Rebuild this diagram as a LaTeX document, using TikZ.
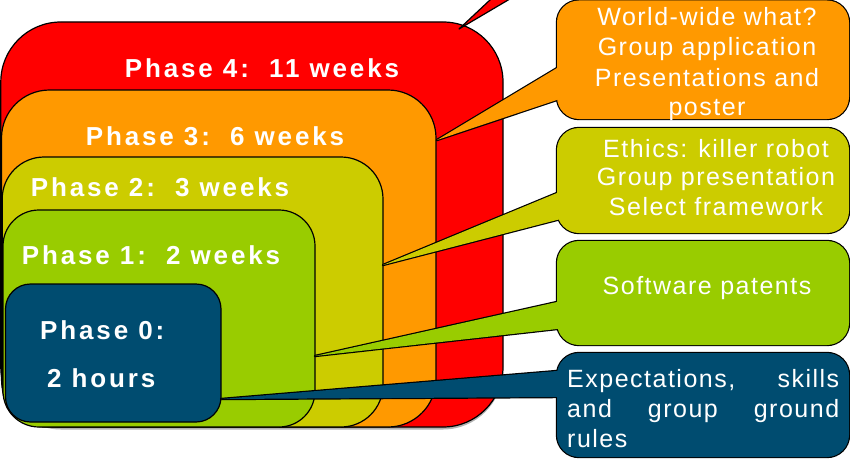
\documentclass[tikz,border=0pt]{standalone}
\usepackage{fontspec}
\setmainfont{Liberation Sans}
\newfontfamily\phasefont[LetterSpace=11]{Liberation Sans}
\newfontfamily\callfont[LetterSpace=6]{Liberation Sans}
\definecolor{cRed}{RGB}{255,0,0}
\definecolor{cOrange}{RGB}{255,153,0}
\definecolor{cYellow}{RGB}{204,204,0}
\definecolor{cGreen}{RGB}{153,204,0}
\definecolor{cBlue}{RGB}{0,76,112}
\begin{document}
\begin{tikzpicture}[x=1pt,y=1pt,
  phasebox/.style={draw=black, line width=1.2pt},
  halo/.style={draw=black, line width=2.4pt, line join=round},
  phaselabel/.style={text=white, font=\phasefont\bfseries\fontsize{26}{30}\selectfont, inner sep=0pt, anchor=base},
  calltext/.style={text=white, font=\callfont\fontsize{25}{30}\selectfont, inner sep=0pt, anchor=base}]
\useasboundingbox (0,0) rectangle (850,459);
\clip (0,0) rectangle (850,459);
% shadow
\fill[black!30, rounded corners=60] (1,29.5) rectangle (503,300);
% nested phase boxes
\draw[phasebox, fill=cRed, rounded corners=60] (0.8,32) rectangle (503,437);
\draw[phasebox, fill=cOrange, rounded corners=48] (1.5,32) rectangle (436,369);
\draw[phasebox, fill=cYellow, rounded corners=42] (2.2,32) rectangle (383,302);
\draw[phasebox, fill=cGreen, rounded corners=36] (3,32) rectangle (315,249);
\draw[phasebox, fill=cBlue, rounded corners=25] (5.5,37) rectangle (221,175);
% phase labels
\node[phaselabel] (p4) at (262,382) {Phase 4:\ \ 11 weeks};
\node[phaselabel] (p3) at (215,314) {Phase 3:\ \ 6 weeks};
\node[phaselabel] (p2) at (160,263) {Phase 2:\ \ 3 weeks};
\node[phaselabel] (p1) at (151,195) {Phase 1:\ \ 2 weeks};
\node[phaselabel, anchor=base west] (p0a) at (40,120) {Phase 0:};
\node[phaselabel, anchor=base west] (p0b) at (47,72) {2 hours};
% red callout tail (callout itself lies above the picture)
\draw[phasebox, fill=cRed, line join=round] (459,430) -- (522,489) -- (559,489) -- cycle;
% orange callout
\draw[halo] (437,319) -- (577,403) -- (577,365.7) -- cycle;
\draw[halo, rounded corners=22] (557,340) rectangle (849,458.5);
\fill[cOrange] (437,319) -- (577,403) -- (577,365.7) -- cycle;
\fill[cOrange, rounded corners=22] (557,340) rectangle (849,458.5);
% yellow callout
\draw[halo] (383,194) -- (577,274.3) -- (577,244.2) -- cycle;
\draw[halo, rounded corners=22] (557,226) rectangle (849,331);
\fill[cYellow] (383,194) -- (577,274.3) -- (577,244.2) -- cycle;
\fill[cYellow, rounded corners=22] (557,226) rectangle (849,331);
% green callout
\draw[halo] (315,103) -- (577,161.5) -- (577,132.2) -- cycle;
\draw[halo, rounded corners=22] (557,114) rectangle (849,218);
\fill[cGreen] (315,103) -- (577,161.5) -- (577,132.2) -- cycle;
\fill[cGreen, rounded corners=22] (557,114) rectangle (849,218);
% blue callout
\draw[halo] (221,60) -- (577,89.7) -- (577,62.1) -- cycle;
\draw[halo, rounded corners=22] (557,2) rectangle (849,106);
\fill[cBlue] (221,60) -- (577,89.7) -- (577,62.1) -- cycle;
\fill[cBlue, rounded corners=22] (557,2) rectangle (849,106);
% callout texts
\node[calltext] (o1) at (707,433) {World-wide what?};
\node[calltext] (o2) at (707,403) {Group application};
\node[calltext] (o3) at (707,373) {Presentations and};
\node[calltext] (o4) at (707,344) {poster};
\node[calltext] (y1) at (716,302) {Ethics: killer robot};
\node[calltext] (y2) at (716,274) {Group presentation};
\node[calltext] (y3) at (716,244) {Select framework};
\node[calltext] (g1) at (707,165) {Software patents};
\node[calltext, anchor=base west] (b1) at (567,72) {\makebox[272pt][s]{Expectations, skills}};
\node[calltext, anchor=base west] (b2) at (567,42) {\makebox[272pt][s]{and group ground}};
\node[calltext, anchor=base west] (b3) at (567,12) {rules};
\end{tikzpicture}
\end{document}
